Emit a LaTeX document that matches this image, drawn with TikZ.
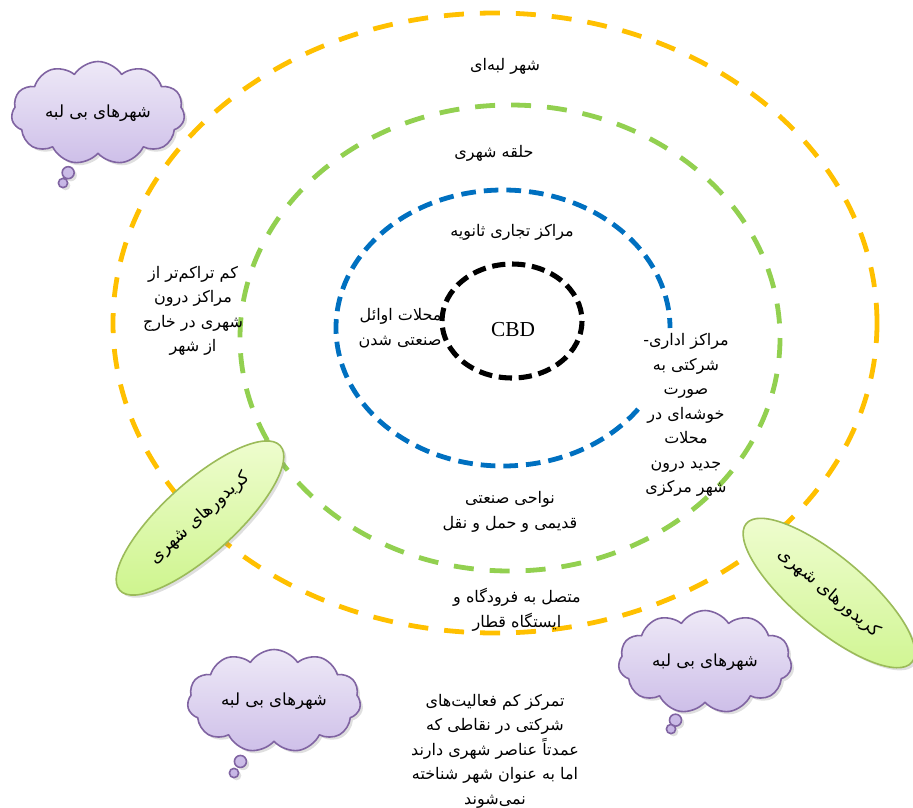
\documentclass[tikz,border=0pt]{standalone}
\usepackage{fontspec}
\setmainfont{Liberation Serif}
\newfontfamily\farsi[Script=Arabic]{DejaVu Sans}
\TeXXeTstate=1
\usetikzlibrary{shapes.geometric,shapes.callouts,shadows}

\definecolor{ringorange}{HTML}{FFC000}
\definecolor{ringgreen}{HTML}{92D050}
\definecolor{ringblue}{HTML}{0070C0}
\definecolor{cloudline}{HTML}{8064A2}
\definecolor{cloudtop}{HTML}{EEE9F7}
\definecolor{cloudbottom}{HTML}{C6B5E5}
\definecolor{corline}{HTML}{9BBB59}
\definecolor{cortop}{HTML}{F0FDD2}
\definecolor{corbottom}{HTML}{CFF590}

% one line of right-to-left text
\newcommand{\fa}[1]{{\farsi\beginR #1\endR}}

\begin{document}
\begin{tikzpicture}[
		x={(0.75pt,0pt)},
		y={(0pt,-0.75pt)},
		line join=round,
		ring/.style={line width=3.6pt, dash pattern=on 15pt off 12pt},
		zonetext/.style={font=\fontsize{12}{18.4}\selectfont, align=center, inner sep=0pt},
		bubble/.style={cloud callout, cloud puffs=11, cloud puff arc=115, aspect=1.8,
			draw=cloudline, line width=1.2pt, top color=cloudtop, bottom color=cloudbottom,
			callout pointer start size=13pt and 11pt, callout pointer end size=8pt and 7pt,
			callout pointer segments=2,
			drop shadow={opacity=.25, shadow xshift=2pt, shadow yshift=-2pt},
			font=\fontsize{12.5}{18.4}\selectfont, inner sep=0pt,
			minimum width=130pt, minimum height=75pt},
		corridor/.style={ellipse, draw=corline, line width=1.2pt, top color=cortop, bottom color=corbottom,
			drop shadow={opacity=.25, shadow xshift=2pt, shadow yshift=-2pt},
			font=\fontsize{13}{18.4}\selectfont, inner sep=0pt,
			minimum width=162pt, minimum height=54pt}
	]
	\useasboundingbox (0,0) rectangle (913,807);

	% Rings
	\draw[ring, ringorange] (495,323) ellipse (382 and 310);
	\draw[ring, ringgreen] (510,338) ellipse (270 and 233);
	\draw[ring, ringblue, dash pattern=on 11pt off 6pt] (503,328) ++(36:167 and 138) arc[start angle=36, end angle=360, x radius=167, y radius=138];
	\draw[ring, black, line width=3.8pt, dash pattern=on 10pt off 5pt] (512,321) ellipse (70 and 57);

	% Zone texts
	\node[zonetext] (edgecity) at (505,66) {\fa{شهر لبه^^^^200cای}};
	\node[zonetext] (urbanring) at (494,153) {\fa{حلقه شهری}};
	\node[zonetext] (secondary) at (512,232) {\fa{مراکز تجاری ثانویه}};
	\node[zonetext, align=right] (earlyind) at (400,328) {\fa{محلات اوائل}\\\fa{صنعتی شدن}};
	\node[font=\fontsize{16}{19}\selectfont, inner sep=0pt] (cbd) at (513,330) {CBD};
	\node[zonetext] (offices) at (686,415) {{\farsi -}\fa{مراکز اداری}\\\fa{شرکتی به}\\\fa{صورت}\\\fa{خوشه^^^^200cای در}\\\fa{محلات}\\\fa{جدید درون}\\\fa{شهر مرکزی}};
	\node[zonetext] (lowdens) at (193,311) {\fa{کم تراکم^^^^200cتر از}\\\fa{مراکز درون}\\\fa{شهری در خارج}\\\fa{از شهر}};
	\node[zonetext] (oldind) at (510,512) {\fa{نواحی صنعتی}\\\fa{قدیمی و حمل و نقل}};
	\node[zonetext] (airport) at (517,610) {\fa{متصل به فرودگاه و}\\\fa{ایستگاه قطار}};
	\node[zonetext] (edgeless) at (495,751) {\fa{تمرکز کم فعالیت^^^^200cهای}\\\fa{شرکتی در نقاطی که}\\\fa{عمدتاً عناصر شهری دارند}\\\fa{اما به عنوان شهر شناخته}\\\fa{نمی^^^^200cشوند}};

	% Clouds
	\coordinate (tailA) at (63,183);
	\coordinate (tailB) at (234,773);
	\coordinate (tailC) at (671,729);
	\node[bubble, callout absolute pointer={(tailA)}] (cloudA) at (98,113) {\fa{شهرهای بی لبه}};
	\node[bubble, callout absolute pointer={(tailB)}] (cloudB) at (274,701) {\fa{شهرهای بی لبه}};
	\node[bubble, callout absolute pointer={(tailC)}] (cloudC) at (705,662) {\fa{شهرهای بی لبه}};

	% Corridors
	\node[corridor, rotate=42] (corA) at (200,518) {\fa{کریدورهای شهری}};
	\node[corridor, rotate=-40] (corB) at (829,593) {\fa{کریدورهای شهری}};

\end{tikzpicture}
\end{document}
